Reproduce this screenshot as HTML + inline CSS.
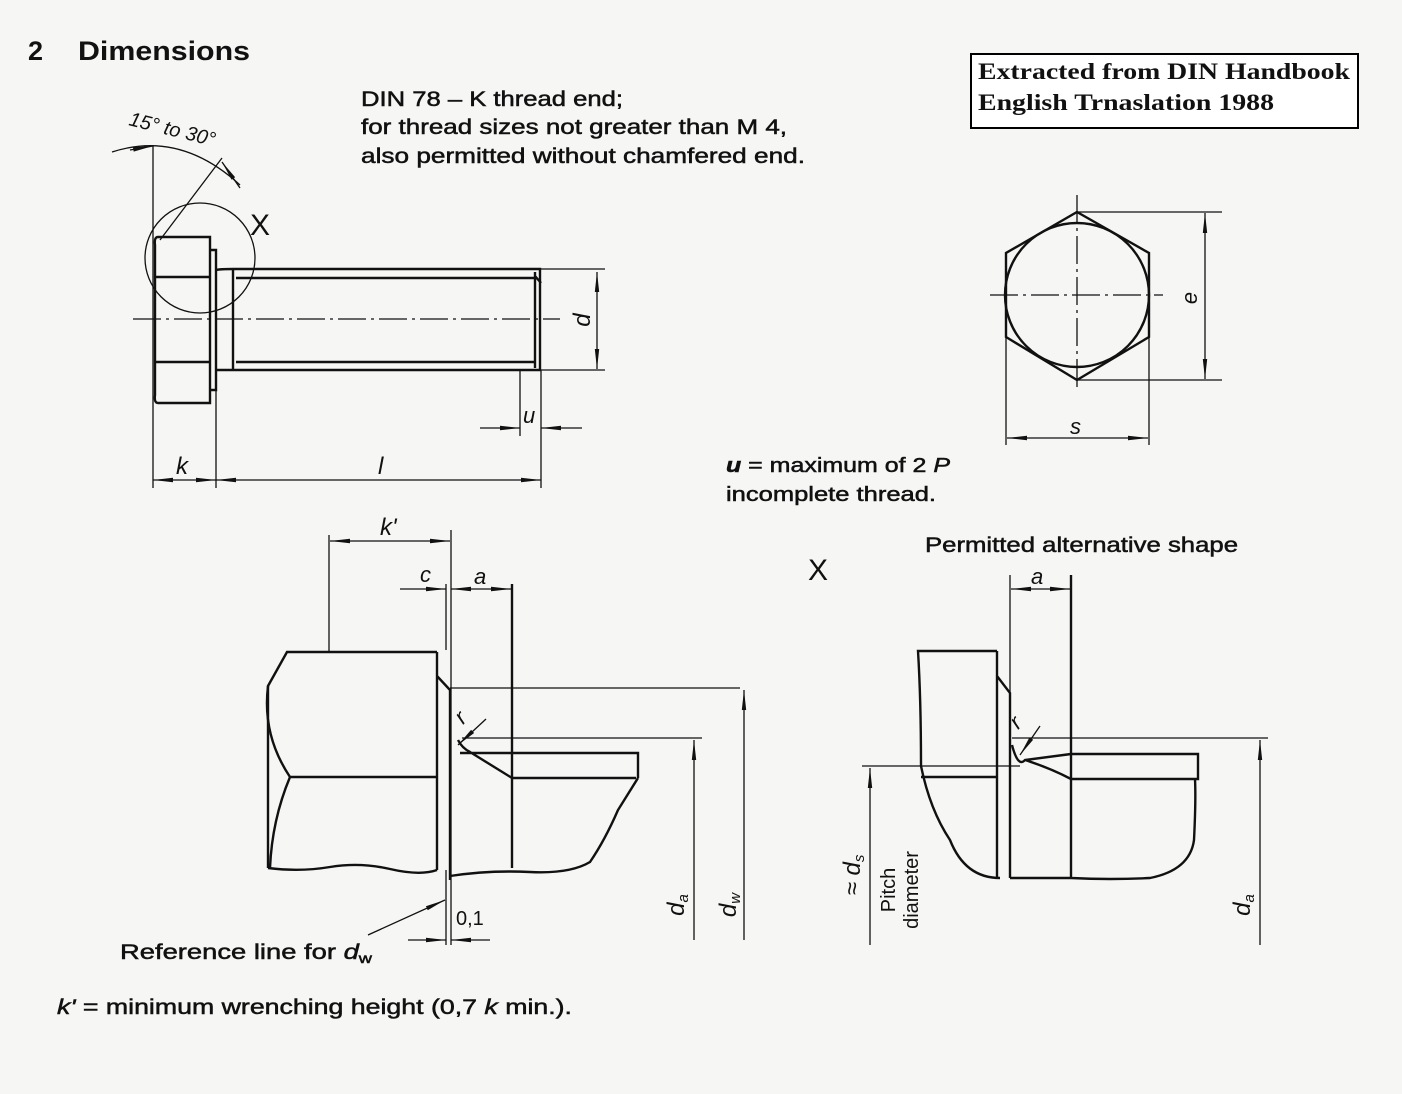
<!DOCTYPE html>
<html><head><meta charset="utf-8"><style>
html,body{margin:0;padding:0;background:#f6f6f4;}
svg{display:block;}
text{font-family:"Liberation Sans",sans-serif;fill:#111;}
.w{stroke:#111;stroke-width:0.5;}
.b{stroke:#111;stroke-width:2.4;fill:none;}
.t{stroke:#111;stroke-width:1.3;fill:none;}
.c{stroke:#111;stroke-width:1.3;fill:none;stroke-dasharray:28 5 3 5;}
</style></head><body>
<svg width="1402" height="1094" viewBox="0 0 1402 1094" xmlns="http://www.w3.org/2000/svg">
<defs>
<marker id="a" viewBox="0 0 20 6" refX="20" refY="3" markerWidth="20" markerHeight="6" markerUnits="userSpaceOnUse" orient="auto-start-reverse"><path d="M0,0.8 L20,3 L0,5.2 Z" fill="#111"/></marker>
</defs>
<rect width="1402" height="1094" fill="#f6f6f4"/>
<text x="28" y="60" font-size="27" font-weight="bold">2</text>
<text x="78" y="60" font-size="27" font-weight="bold" textLength="172" lengthAdjust="spacingAndGlyphs">Dimensions</text>
<text class="w" x="361" y="106" font-size="21" textLength="262" lengthAdjust="spacingAndGlyphs">DIN 78 – K thread end;</text>
<text class="w" x="361" y="134" font-size="21" textLength="426" lengthAdjust="spacingAndGlyphs">for thread sizes not greater than M 4,</text>
<text class="w" x="361" y="163" font-size="21" textLength="444" lengthAdjust="spacingAndGlyphs">also permitted without chamfered end.</text>
<rect x="971" y="54" width="387" height="74" fill="#fff" stroke="#000" stroke-width="2"/>
<text x="978" y="79" font-size="23" font-weight="bold" style="font-family:'Liberation Serif',serif" textLength="372" lengthAdjust="spacingAndGlyphs">Extracted from DIN Handbook</text>
<text x="978" y="110" font-size="23" font-weight="bold" style="font-family:'Liberation Serif',serif" textLength="296" lengthAdjust="spacingAndGlyphs">English Trnaslation 1988</text>

<!-- angle -->
<text x="128" y="125" font-size="20" font-style="italic" transform="rotate(14 128 125)">15° to 30°</text>
<path class="t" d="M112,152 Q180,130 240,185"/>
<line class="t" x1="153" y1="145" x2="153" y2="488"/>
<line class="t" x1="160" y1="240" x2="222" y2="158"/>
<line class="t" x1="130" y1="150" x2="153" y2="146" marker-end="url(#a)"/>
<line class="t" x1="240" y1="188" x2="222" y2="162" marker-end="url(#a)"/>
<circle class="t" cx="200" cy="258" r="55"/>
<text x="250" y="235" font-size="30">X</text>

<!-- bolt -->
<path class="b" d="M158,237 H210 V403 H158 Q154,403 155,395 V245 Q154,237 158,237 Z"/>
<path class="b" d="M156,277 H210 M156,362 H210"/>
<path class="b" d="M210,250 H216 V390 H210"/>
<path class="b" d="M216,270 Q220,269 233,269 H540 V370 H233 Q220,370 216,370"/>
<path class="b" d="M233,269 V370 M236,278 H535 M236,362 H535 M535,272 V368 M535,276 L541,283"/>
<line class="c" x1="133" y1="319" x2="560" y2="319"/>
<line class="t" x1="541" y1="269" x2="605" y2="269"/>
<line class="t" x1="541" y1="370" x2="605" y2="370"/>
<line class="t" x1="597" y1="272" x2="597" y2="369" marker-start="url(#a)" marker-end="url(#a)"/>
<text x="590" y="320" font-size="24" font-style="italic" transform="rotate(-90 590 320)" text-anchor="middle">d</text>
<line class="t" x1="520" y1="370" x2="520" y2="436"/>
<line class="t" x1="541" y1="370" x2="541" y2="488"/>
<line class="t" x1="480" y1="428" x2="520" y2="428" marker-end="url(#a)"/>
<line class="t" x1="582" y1="428" x2="541" y2="428" marker-end="url(#a)"/>
<text x="523" y="423" font-size="22" font-style="italic">u</text>
<line class="t" x1="216" y1="390" x2="216" y2="488"/>
<line class="t" x1="153" y1="480" x2="216" y2="480" marker-start="url(#a)" marker-end="url(#a)"/>
<line class="t" x1="216" y1="480" x2="541" y2="480" marker-start="url(#a)" marker-end="url(#a)"/>
<text x="176" y="474" font-size="24" font-style="italic">k</text>
<text x="378" y="474" font-size="24" font-style="italic">l</text>

<!-- hex view -->
<polygon class="b" points="1077,212 1149,253 1149,337 1077,380 1006,337 1006,253"/>
<circle class="b" cx="1077" cy="295" r="72"/>
<line class="c" x1="990" y1="295" x2="1163" y2="295"/>
<line class="c" x1="1077" y1="195" x2="1077" y2="392"/>
<line class="t" x1="1077" y1="212" x2="1222" y2="212"/>
<line class="t" x1="1077" y1="380" x2="1222" y2="380"/>
<line class="t" x1="1205" y1="213" x2="1205" y2="379" marker-start="url(#a)" marker-end="url(#a)"/>
<text x="1197" y="298" font-size="22" font-style="italic" transform="rotate(-90 1197 298)" text-anchor="middle">e</text>
<line class="t" x1="1006" y1="337" x2="1006" y2="445"/>
<line class="t" x1="1149" y1="337" x2="1149" y2="445"/>
<line class="t" x1="1007" y1="438" x2="1148" y2="438" marker-start="url(#a)" marker-end="url(#a)"/>
<text x="1070" y="434" font-size="22" font-style="italic">s</text>

<text class="w" x="726" y="472" font-size="20" textLength="224" lengthAdjust="spacingAndGlyphs"><tspan font-style="italic" font-weight="bold">u</tspan> = maximum of 2 <tspan font-style="italic">P</tspan></text>
<text class="w" x="726" y="501" font-size="20" textLength="210" lengthAdjust="spacingAndGlyphs">incomplete thread.</text>

<!-- lower left detail -->
<path class="b" d="M437,652 H287 L268,686 V868"/>
<path class="b" d="M268,686 Q262,735 290,777 H437 M290,777 Q272,820 270,868"/>
<path class="b" d="M437,652 V870 M437,676 L450,690 V880"/>
<path class="b" d="M268,868 Q300,872 330,867 T390,869 T437,870 M450,876 Q490,870 530,872 T590,862 Q605,840 618,810 L638,778"/>
<path class="b" d="M458,740 Q462,748 470,752 L512,778 M460,753 H638 V778 M512,778 H636 M512,584 V868"/>
<line class="t" x1="450" y1="688" x2="740" y2="688"/>
<line class="t" x1="462" y1="738" x2="702" y2="738"/>
<line class="t" x1="329" y1="535" x2="329" y2="652"/>
<line class="t" x1="451" y1="530" x2="451" y2="945"/>
<line class="t" x1="446" y1="584" x2="446" y2="650"/>
<line class="t" x1="330" y1="541" x2="450" y2="541" marker-start="url(#a)" marker-end="url(#a)"/>
<text x="380" y="535" font-size="24" font-style="italic">k'</text>
<line class="t" x1="400" y1="589" x2="446" y2="589" marker-end="url(#a)"/>
<line class="t" x1="451" y1="589" x2="511" y2="589" marker-start="url(#a)" marker-end="url(#a)"/>
<text x="420" y="582" font-size="22" font-style="italic">c</text>
<text x="474" y="584" font-size="22" font-style="italic">a</text>
<line class="t" x1="486" y1="719" x2="458" y2="745" marker-end="url(#a)"/>
<text x="463" y="725" font-size="22" font-style="italic" transform="rotate(-45 463 725)">r</text>
<line class="t" x1="744" y1="940" x2="744" y2="690" marker-end="url(#a)"/>
<line class="t" x1="694" y1="940" x2="694" y2="740" marker-end="url(#a)"/>
<text x="684" y="905" font-size="24" font-style="italic" transform="rotate(-90 684 905)" text-anchor="middle">d<tspan font-size="15" dy="4">a</tspan></text>
<text x="736" y="905" font-size="24" font-style="italic" transform="rotate(-90 736 905)" text-anchor="middle">d<tspan font-size="15" dy="4">w</tspan></text>
<line class="t" x1="446" y1="870" x2="446" y2="945"/>
<line class="t" x1="408" y1="940" x2="446" y2="940" marker-end="url(#a)"/>
<line class="t" x1="490" y1="940" x2="451" y2="940" marker-end="url(#a)"/>
<text x="456" y="925" font-size="20">0,1</text>
<line class="t" x1="368" y1="935" x2="445" y2="900" marker-end="url(#a)"/>
<text class="w" x="120" y="959" font-size="21" textLength="252" lengthAdjust="spacingAndGlyphs">Reference line for <tspan font-style="italic">d</tspan><tspan font-size="14" dy="4">w</tspan></text>
<text class="w" x="57" y="1014" font-size="21" textLength="515" lengthAdjust="spacingAndGlyphs"><tspan font-style="italic">k'</tspan> = minimum wrenching height (0,7 <tspan font-style="italic">k</tspan> min.).</text>

<!-- right detail X -->
<text x="808" y="580" font-size="30">X</text>
<text class="w" x="925" y="552" font-size="21" textLength="313" lengthAdjust="spacingAndGlyphs">Permitted alternative shape</text>
<path class="b" d="M997,651 H918 Q921,700 921,766 Q930,810 950,840 Q965,878 1000,878"/>
<path class="b" d="M997,651 V878 M997,676 L1010,693 V878 M1071,575 V878 M1010,878 H1071 Q1110,880 1150,878 Q1190,870 1194,840 Q1196,800 1195,779"/>
<path class="b" d="M921,777 H997 M1072,754 H1198 V779 H1072 M1012,745 Q1018,768 1025,760 L1071,754 M1025,760 Q1050,768 1071,779"/>
<line class="t" x1="1010" y1="575" x2="1010" y2="693"/>
<line class="t" x1="1011" y1="589" x2="1070" y2="589" marker-start="url(#a)" marker-end="url(#a)"/>
<text x="1031" y="584" font-size="22" font-style="italic">a</text>
<line class="t" x1="1012" y1="738" x2="1268" y2="738"/>
<line class="t" x1="862" y1="766" x2="1020" y2="766"/>
<line class="t" x1="1040" y1="726" x2="1020" y2="755" marker-end="url(#a)"/>
<text x="1018" y="730" font-size="22" font-style="italic" transform="rotate(-45 1018 730)">r</text>
<line class="t" x1="870" y1="945" x2="870" y2="768" marker-end="url(#a)"/>
<line class="t" x1="1260" y1="945" x2="1260" y2="740" marker-end="url(#a)"/>
<text x="860" y="875" font-size="24" font-style="italic" transform="rotate(-90 860 875)" text-anchor="middle">≈ d<tspan font-size="15" dy="4">s</tspan></text>
<text x="895" y="890" font-size="20" transform="rotate(-90 895 890)" text-anchor="middle">Pitch</text>
<text x="918" y="890" font-size="20" transform="rotate(-90 918 890)" text-anchor="middle">diameter</text>
<text x="1250" y="905" font-size="24" font-style="italic" transform="rotate(-90 1250 905)" text-anchor="middle">d<tspan font-size="15" dy="4">a</tspan></text>
</svg>
</body></html>
